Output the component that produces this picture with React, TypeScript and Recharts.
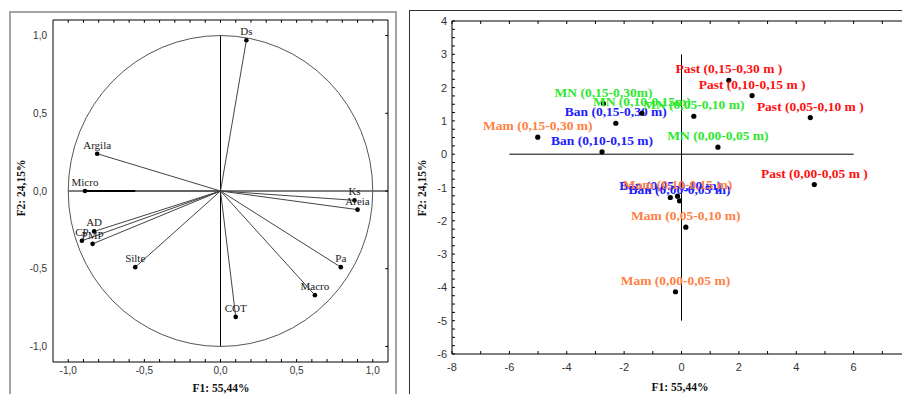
import React from "react";
import { ScatterChart, Scatter, XAxis, YAxis, ReferenceLine, ReferenceDot, ReferenceArea } from "recharts";

const SERIF = '"Liberation Serif", "Times New Roman", serif';
const SANS = '"Liberation Sans", Arial, sans-serif';

// variable loadings (left, correlation circle)
const varNames = ["Ds", "Argila", "Micro", "Ks", "Areia", "AD", "CP", "PMP", "Silte", "COT", "Macro", "Pa"];
const varF1 = [0.17, -0.81, -0.89, 0.88, 0.9, -0.83, -0.91, -0.84, -0.56, 0.1, 0.62, 0.79];
const varF2 = [0.97, 0.24, 0.0, -0.06, -0.12, -0.26, -0.32, -0.34, -0.49, -0.81, -0.67, -0.49];

// sample scores (right)
const pastNames = ["Past (0,15-0,30 m )", "Past (0,10-0,15 m )", "Past (0,05-0,10 m )", "Past (0,00-0,05 m )"];
const pastF1 = [1.65, 2.46, 4.49, 4.63];
const pastF2 = [2.22, 1.76, 1.1, -0.91];

const mnNames = ["MN (0,15-0,30m)", "MN (0,10-0,15m)", "MN (0,05-0,10 m)", "MN (0,00-0,05 m)"];
const mnF1 = [-2.72, -1.38, 0.43, 1.27];
const mnF2 = [1.52, 1.23, 1.14, 0.21];

const banNames = ["Ban (0,15-0,30 m)", "Ban (0,10-0,15 m)", "Ban (0,05-0,10 m)", "Ban (0,00-0,05 m)"];
const banF1 = [-2.29, -2.77, -0.39, -0.07];
const banF2 = [0.93, 0.07, -1.3, -1.4];

const mamNames = ["Mam (0,15-0,30 m)", "Mam (0,10-0,15 m)", "Mam (0,05-0,10 m)", "Mam (0,00-0,05 m)"];
const mamF1 = [-5.01, -0.14, 0.15, -0.21];
const mamF2 = [0.51, -1.26, -2.19, -4.13];

const GROUP_COLOR = { past: "#ff1010", mn: "#2ee82e", ban: "#2020ff", mam: "#ff7f45" };

const zip = (names: string[], xs: number[], ys: number[]) => names.map((name, i) => ({ name, x: xs[i], y: ys[i] }));

const range = (a: number, b: number, step: number) => {
  const out: number[] = [];
  for (let v = a; v <= b + step / 2; v += step) out.push(Math.round(v * 1000) / 1000);
  return out;
};

const fmt1 = (v: number) => v.toFixed(1).replace(".", ",").replace("-0,0", "0,0");
const isMult = (v: number, m: number) => Math.abs(v / m - Math.round(v / m)) < 1e-6;

// left chart layout
const L_W = 400;
const L_H = 394;
const L_M = { top: 20, right: 12, bottom: 0, left: 0 };
const L_YW = 53;
const L_XH = 32;
const L_PW = L_W - L_M.left - L_M.right - L_YW;
const L_PH = L_H - L_M.top - L_M.bottom - L_XH;

function LoadXTick({ x, y, payload }: any) {
  const v = payload.value;
  return (
    <g>
      <line x1={x} x2={x} y1={y} y2={y - 3} stroke="#000" />
      {isMult(v, 0.5) && (
        <text x={x} y={y + 12} textAnchor="middle" fontFamily={SANS} fontSize={10} fill="#333">
          {fmt1(v)}
        </text>
      )}
    </g>
  );
}

function LoadYTick({ x, y, payload }: any) {
  return (
    <text x={x - 6} y={y + 3.5} textAnchor="end" fontFamily={SANS} fontSize={10} fill="#333">
      {fmt1(payload.value)}
    </text>
  );
}

function LoadPoint({ cx, cy, payload }: any) {
  return (
    <g>
      <circle cx={cx} cy={cy} r={2.3} fill="#000" />
      <text x={cx} y={cy - 5} textAnchor="middle" fontFamily={SERIF} fontSize={11} fill="#222">
        {payload.name}
      </text>
    </g>
  );
}

function ScoreXTick({ x, y, payload }: any) {
  const v = payload.value;
  return (
    <g>
      <line x1={x} x2={x} y1={y} y2={y - 3} stroke="#000" />
      {isMult(v, 2) && v < 8 && (
        <text x={x} y={y + 17} textAnchor="middle" fontFamily={SANS} fontSize={11} fill="#333">
          {String(v)}
        </text>
      )}
    </g>
  );
}

function ScoreYTick({ x, y, payload }: any) {
  const v = payload.value;
  return (
    <g>
      <line x1={x} x2={x + 3} y1={y} y2={y} stroke="#000" />
      {isMult(v, 1) && (
        <text x={x - 5} y={y + 4} textAnchor="end" fontFamily={SANS} fontSize={11} fill="#333">
          {String(v)}
        </text>
      )}
    </g>
  );
}

const scorePoint = (color: string) => ({ cx, cy, payload }: any) => (
  <g>
    <circle cx={cx} cy={cy} r={2.6} fill="#000" />
    <text x={cx} y={cy - 7} textAnchor="middle" fontFamily={SERIF} fontWeight="bold" fontSize={13.5} fill={color}>
      {payload.name}
    </text>
  </g>
);

function LoadingsChart() {
  const data = zip(varNames, varF1, varF2);
  const xTicks = range(-1, 1, 0.1);
  const yTicks = [-1, -0.5, 0, 0.5, 1];
  return (
    <ScatterChart width={L_W} height={L_H} margin={L_M}>
      <XAxis
        type="number"
        dataKey="x"
        domain={[-1.1, 1.1]}
        ticks={xTicks}
        interval={0}
        tickSize={0}
        tickMargin={0}
        axisLine={false}
        tickLine={false}
        height={L_XH}
        tick={<LoadXTick />}
        allowDataOverflow
      />
      <YAxis
        type="number"
        dataKey="y"
        domain={[-1.1, 1.1]}
        ticks={yTicks}
        interval={0}
        tickSize={0}
        tickMargin={0}
        axisLine={false}
        tickLine={false}
        width={L_YW}
        tick={<LoadYTick />}
        allowDataOverflow
      />
      <ReferenceArea x1={-1.1} x2={1.1} y1={-1.1} y2={1.1} fill="none" stroke="#000" strokeWidth={1} ifOverflow="visible" />
      {xTicks.map((t) => (
        <ReferenceLine key={"tt" + t} segment={[{ x: t, y: 1.1 }, { x: t, y: 1.082 }]} stroke="#000" ifOverflow="visible" />
      ))}
      {yTicks.map((t) => (
        <ReferenceLine key={"rt" + t} segment={[{ x: 1.1, y: t }, { x: 1.082, y: t }]} stroke="#000" ifOverflow="visible" />
      ))}
      <ReferenceDot
        x={0}
        y={0}
        ifOverflow="visible"
        shape={(p: any) => (
          <ellipse cx={p.cx} cy={p.cy} rx={L_PW / 2.2} ry={L_PH / 2.2} fill="none" stroke="#555" strokeWidth={1} />
        )}
      />
      <ReferenceLine segment={[{ x: -1, y: 0 }, { x: 1.1, y: 0 }]} stroke="#000" ifOverflow="visible" />
      <ReferenceLine segment={[{ x: 0, y: -1 }, { x: 0, y: 1 }]} stroke="#000" ifOverflow="visible" />
      {data.map((d) => (
        <ReferenceLine key={"v" + d.name} segment={[{ x: 0, y: 0 }, { x: d.x, y: d.y }]} stroke="#444" ifOverflow="visible" />
      ))}
      <ReferenceLine segment={[{ x: varF1[2], y: 0 }, { x: -0.56, y: 0 }]} stroke="#000" strokeWidth={2} ifOverflow="visible" />
      <Scatter data={data} isAnimationActive={false} shape={<LoadPoint />} />
    </ScatterChart>
  );
}

// right chart layout
const R_W = 502;
const R_H = 394;
const R_M = { top: 21, right: 0, bottom: 0, left: 0 };

function ScoresChart() {
  const xTicks = range(-8, 8, 1);
  const yTicks = range(-6, 4, 0.25);
  return (
    <ScatterChart width={R_W} height={R_H} margin={R_M}>
      <XAxis
        type="number"
        dataKey="x"
        domain={[-8, 8]}
        ticks={xTicks}
        interval={0}
        tickSize={0}
        tickMargin={0}
        axisLine={false}
        tickLine={false}
        height={40}
        tick={<ScoreXTick />}
        allowDataOverflow
      />
      <YAxis
        type="number"
        dataKey="y"
        domain={[-6, 4]}
        ticks={yTicks}
        interval={0}
        tickSize={0}
        tickMargin={0}
        axisLine={false}
        tickLine={false}
        width={43}
        tick={<ScoreYTick />}
        allowDataOverflow
      />
      <ReferenceArea x1={-8} x2={8} y1={-6} y2={4} fill="none" stroke="#000" strokeWidth={1} ifOverflow="visible" />
      {xTicks.map((t) => (
        <ReferenceLine key={"tt" + t} segment={[{ x: t, y: 4 }, { x: t, y: 3.91 }]} stroke="#000" ifOverflow="visible" />
      ))}
      <ReferenceLine segment={[{ x: -6, y: 0 }, { x: 6, y: 0 }]} stroke="#000" ifOverflow="visible" />
      <ReferenceLine segment={[{ x: 0, y: -5 }, { x: 0, y: 3 }]} stroke="#000" ifOverflow="visible" />
      <Scatter data={zip(banNames, banF1, banF2)} isAnimationActive={false} shape={scorePoint(GROUP_COLOR.ban)} />
      <Scatter data={zip(mamNames, mamF1, mamF2)} isAnimationActive={false} shape={scorePoint(GROUP_COLOR.mam)} />
      <Scatter data={zip(mnNames, mnF1, mnF2)} isAnimationActive={false} shape={scorePoint(GROUP_COLOR.mn)} />
      <Scatter data={zip(pastNames, pastF1, pastF2)} isAnimationActive={false} shape={scorePoint(GROUP_COLOR.past)} />
    </ScatterChart>
  );
}

const titleStyle: React.CSSProperties = {
  position: "absolute",
  width: 120,
  height: 14,
  lineHeight: "14px",
  textAlign: "center",
  fontFamily: SERIF,
  fontWeight: "bold",
  fontSize: 11.5,
  color: "#111",
  whiteSpace: "nowrap",
};

export default function App() {
  return (
    <div style={{ position: "absolute", left: 0, top: 0, width: 902, height: 394, overflow: "hidden", background: "#fff" }}>
      <div
        style={{
          position: "absolute",
          left: 9,
          top: 11,
          width: 388,
          height: 420,
          boxSizing: "border-box",
          border: "2px solid #a4a4a4",
          borderBottom: "none",
        }}
      />
      <div
        style={{
          position: "absolute",
          left: 409,
          top: 10,
          width: 600,
          height: 420,
          boxSizing: "border-box",
          border: "1px solid #333",
          borderBottom: "none",
        }}
      />
      <div style={{ position: "absolute", left: 0, top: 0 }}>
        <LoadingsChart />
      </div>
      <div style={{ position: "absolute", left: 409, top: 0 }}>
        <ScoresChart />
      </div>
      <div style={{ ...titleStyle, left: 221 - 60, top: 381 }}>F1: 55,44%</div>
      <div style={{ ...titleStyle, left: 21 - 60, top: 181, transform: "rotate(-90deg)" }}>F2: 24,15%</div>
      <div style={{ ...titleStyle, left: 680 - 60, top: 380 }}>F1: 55,44%</div>
      <div style={{ ...titleStyle, left: 422 - 60, top: 181, transform: "rotate(-90deg)" }}>F2: 24,15%</div>
    </div>
  );
}
